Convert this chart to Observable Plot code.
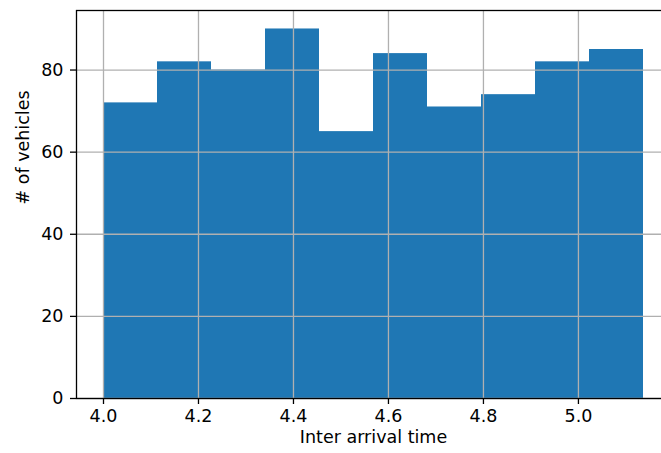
<!DOCTYPE html>
<html><head><meta charset="utf-8">
<script src="https://cdn.jsdelivr.net/npm/d3@7"></script>
<script src="https://cdn.jsdelivr.net/npm/@observablehq/plot@0.6"></script>
<style>body{margin:0;background:#fff} #chart{width:661px;height:453px;overflow:hidden}</style>
</head><body><div id="chart"></div>
<script>
const binEdges = [4.0, 4.1137, 4.2274, 4.3411, 4.4548, 4.5685, 4.6822, 4.7959, 4.9096, 5.0233, 5.137];
const counts = [72, 82, 80, 90, 65, 84, 71, 74, 82, 85];
const xTicks = [4.0, 4.2, 4.4, 4.6, 4.8, 5.0];
const yTicks = [0, 20, 40, 60, 80];
const xLabel = "Inter arrival time";
const yLabel = "# of vehicles";

const bins = counts.map((c, i) => ({x1: binEdges[i], x2: binEdges[i + 1], count: c}));
const lo = binEdges[0], hi = binEdges[binEdges.length - 1], pad = (hi - lo) * 0.05;
const yMax = d3.max(counts) * 1.05;
const fs = 17.5;

const plot = Plot.plot({
  width: 670, height: 453,
  marginLeft: 76, marginRight: 0, marginTop: 10, marginBottom: 55,
  style: {fontFamily: "DejaVu Sans, sans-serif", fontSize: fs + "px", color: "#000", background: "#fff", maxWidth: "none"},
  x: {domain: [lo - pad, hi + pad]},
  y: {domain: [0, yMax]},
  marks: [
    Plot.rect(bins, {x1: "x1", x2: "x2", y1: 0, y2: "count", fill: "#1f77b4"}),
    Plot.gridX(xTicks, {stroke: "#b0b0b0", strokeOpacity: 1, strokeWidth: 1.3}),
    Plot.gridY(yTicks, {stroke: "#b0b0b0", strokeOpacity: 1, strokeWidth: 1.3}),
    Plot.frame({stroke: "#000", strokeWidth: 1.3}),
    Plot.axisX(xTicks, {tickSize: 6, tickPadding: 5, strokeWidth: 1.3, tickFormat: d => d.toFixed(1), label: null, fontSize: fs}),
    Plot.axisY(yTicks, {tickSize: 6, tickPadding: 7, strokeWidth: 1.3, tickFormat: d => String(d), label: null, fontSize: fs}),
    Plot.text([xLabel], {frameAnchor: "bottom", dy: 44.4, fontSize: fs, fill: "#000"}),
    Plot.text([yLabel], {frameAnchor: "left", dx: -53.6, rotate: -90, fontSize: fs, fill: "#000"})
  ]
});
document.getElementById("chart").appendChild(plot);
</script>
</body></html>
